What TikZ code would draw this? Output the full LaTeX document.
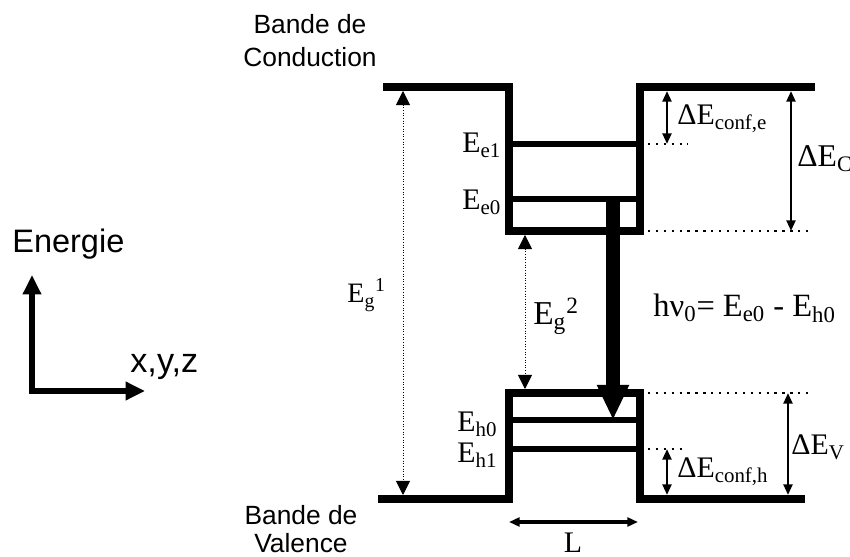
\documentclass[tikz,border=0pt]{standalone}
\usepackage{fontspec}
\setmainfont{Liberation Serif}
\setsansfont{Liberation Sans}
\usetikzlibrary{arrows.meta}

\begin{document}
\begin{tikzpicture}[x=0.02cm, y=-0.02cm]
% définition des styles
\tikzstyle{bande}=[line width=4pt, line join=miter, color=black]
\tikzstyle{niveau}=[line width=3.4pt, color=black]
\tikzstyle{pointille}=[line width=1.5pt, dash pattern=on 1.3pt off 3.2pt]
\tikzstyle{ecart}=[{Triangle[width=5pt,length=6pt]}-{Triangle[width=5pt,length=6pt]}, line width=1.4pt]
\tikzstyle{interdite}=[{Triangle[width=8pt,length=8pt]}-{Triangle[width=8pt,length=8pt]}, line width=0.5pt, densely dotted]
\tikzstyle{photon}=[-{Triangle[width=17pt,length=20pt]}, line width=8pt]
\tikzstyle{axe}=[{Triangle[width=10pt,length=11pt]}-{Triangle[width=10pt,length=11pt]}, line width=3.8pt, line join=miter]
\tikzstyle{etiq}=[inner sep=0pt, font=\fontsize{17}{20}\selectfont]
\tikzstyle{titre}=[align=center, inner sep=0pt, font=\sffamily\fontsize{15}{19.3}\selectfont]
\tikzstyle{titreaxe}=[inner sep=0pt, font=\sffamily\fontsize{18.5}{22}\selectfont]

\useasboundingbox (0,0) rectangle (850,557);

% bande de conduction
\coordinate (c1) at (383,87);
\coordinate (c2) at (509,87);
\coordinate (c3) at (509,231);
\coordinate (c4) at (640,231);
\coordinate (c5) at (640,87);
\coordinate (c6) at (815,87);
\draw[bande] (c1)--(c2)--(c3)--(c4)--(c5)--(c6);
\coordinate (e1g) at (509,144);
\coordinate (e1d) at (640,144);
\coordinate (e0g) at (509,199);
\coordinate (e0d) at (640,199);
\draw[niveau] (e1g)--(e1d);
\draw[niveau] (e0g)--(e0d);

% bande de valence
\coordinate (v1) at (378,499);
\coordinate (v2) at (509,499);
\coordinate (v3) at (509,393);
\coordinate (v4) at (640,393);
\coordinate (v5) at (640,499);
\coordinate (v6) at (805,499);
\draw[bande] (v1)--(v2)--(v3)--(v4)--(v5)--(v6);
\coordinate (h0g) at (509,420);
\coordinate (h0d) at (640,420);
\coordinate (h1g) at (509,449);
\coordinate (h1d) at (640,449);
\draw[niveau] (h0g)--(h0d);
\draw[niveau] (h1g)--(h1d);

% les pointillés
\coordinate (p1) at (688,144);
\coordinate (p2) at (810,231);
\coordinate (p3) at (808,393);
\coordinate (p4) at (687,449);
\draw[pointille] (e1d)--(p1);
\draw[pointille] (c4)--(p2);
\draw[pointille] (v4)--(p3);
\draw[pointille] (h1d)--(p4);

% les flèches
\coordinate (ceh) at (667,91);
\coordinate (ceb) at (667,144);
\coordinate (ch) at (791,91);
\coordinate (cb) at (791,231);
\coordinate (vh) at (788,393);
\coordinate (vb) at (788,495);
\coordinate (chh) at (667,449);
\coordinate (chb) at (667,495);
\coordinate (g1h) at (403,91);
\coordinate (g1b) at (403,495);
\coordinate (g2h) at (525,235);
\coordinate (g2b) at (525,389);
\coordinate (lg) at (509,522);
\coordinate (ld) at (638,522);
\coordinate (ph) at (613,197);
\coordinate (pb) at (613,420);
\draw[ecart] (ceh)--(ceb);
\draw[ecart] (ch)--(cb);
\draw[ecart] (vh)--(vb);
\draw[ecart] (chh)--(chb);
\draw[interdite] (g1h)--(g1b);
\draw[interdite] (g2h)--(g2b);
\draw[ecart, line width=2pt] (lg)--(ld);
\draw[photon] (ph)--(pb);

% le repère
\coordinate (ey) at (32,275);
\coordinate (o) at (32,391);
\coordinate (ex) at (145,391);
\draw[axe] (ey)--(o)--(ex);

% les textes
\node[titreaxe, anchor=base west] (EN) at (12,253) {Energie};
\node[titreaxe, anchor=base west, font=\sffamily\fontsize{19.5}{22}\selectfont] (XYZ) at (130,373) {x,y,z};
\node[titre, anchor=base] (BC) at (310,67) {Bande de\\Conduction};
\node[titre, anchor=base, font=\sffamily\fontsize{15}{16}\selectfont] (BV) at (301,553) {Bande de\\Valence};
\node[etiq, anchor=base west] (Ee1) at (462,153) {E\textsubscript{e1}};
\node[etiq, anchor=base west] (Ee0) at (462,210) {E\textsubscript{e0}};
\node[etiq, anchor=base west] (Eh0) at (457,432) {E\textsubscript{h0}};
\node[etiq, anchor=base west] (Eh1) at (457,463) {E\textsubscript{h1}};
\node[etiq, anchor=base west, font=\fontsize{16}{20}\selectfont] (Eg1) at (347,303) {E\textsubscript{g}\textsuperscript{1}};
\node[etiq, anchor=base west, font=\fontsize{19}{20}\selectfont] (Eg2) at (533,325) {E\textsubscript{g}\textsuperscript{2}};
\node[etiq, anchor=base west, font=\fontsize{18.5}{20}\selectfont] (HV) at (653,317) {hν\textsubscript{0}= E\textsubscript{e0} - E\textsubscript{h0}};
\node[etiq, anchor=base west] (DCe) at (677,125) {ΔE\textsubscript{conf,e}};
\node[etiq, anchor=base west, font=\fontsize{18}{20}\selectfont] (DC) at (797,167) {ΔE\textsubscript{C}};
\node[etiq, anchor=base west] (DCh) at (677,478) {ΔE\textsubscript{conf,h}};
\node[etiq, anchor=base west] (DV) at (791,455) {ΔE\textsubscript{V}};
\node[etiq, anchor=base] (L) at (573,553) {L};
\end{tikzpicture}
\end{document}
